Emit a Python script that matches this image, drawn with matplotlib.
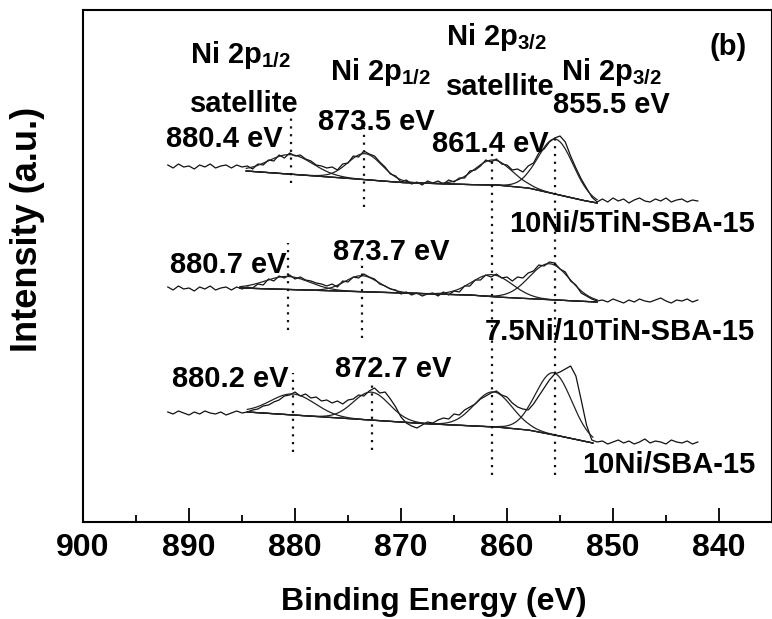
import numpy as np
import matplotlib
matplotlib.use("Agg")
import matplotlib.pyplot as plt
from matplotlib.ticker import MultipleLocator

# binding energy grid of the raw spectra (eV)
energy = np.arange(892.0, 841.9, -0.5)

# raw intensities (a.u., already stacked)
raw_5tin = [357, 354, 358, 355, 356, 353, 357, 355, 358, 354, 356, 357, 354, 357, 355,
            356, 353, 358, 357, 362, 361, 367, 364, 369, 366, 367, 363, 361, 357, 356,
            354, 355, 352, 358, 359, 366, 365, 371, 368, 366, 360, 355, 348, 346, 340,
            342, 338, 340, 337, 341, 339, 341, 338, 342, 340, 344, 344, 351, 352, 356,
            362, 360, 363, 358, 357, 352, 353, 350, 356, 359, 369, 373, 380, 384, 386,
            380, 366, 354, 343, 334, 325, 320,
            323, 320, 324, 321, 323, 319, 322, 324, 321, 320, 323, 321, 324, 320, 322,
            323, 320, 322, 321]
raw_10tin = [235, 232, 236, 233, 234, 231, 235, 233, 236, 232, 234, 235, 232, 235, 233,
             235, 234, 238, 237, 243, 241, 246, 244, 247, 243, 245, 242, 241, 239, 238,
             236, 238, 235, 241, 240, 245, 244, 248, 245, 243, 238, 236, 233, 232, 228,
             230, 227, 229, 226, 228, 229, 226, 230, 227, 231, 230, 236, 236, 242, 242,
             247, 245, 248, 244, 245, 241, 245, 244, 249, 251, 257, 256, 260, 259, 253,
             250, 241, 237, 229, 226, 223, 221,
             222, 220, 223, 221, 219, 222, 220, 223, 221, 220, 222, 224, 221, 219, 222,
             221, 223, 220, 222]
raw_sba = [110, 108, 111, 109, 107, 110, 108, 111, 109, 108, 110, 107, 109, 111, 109,
           110, 112, 113, 116, 117, 120, 122, 126, 127, 130, 126, 128, 124, 125, 121,
           122, 119, 121, 118, 122, 123, 127, 126, 131, 134, 129, 130, 123, 115, 105,
           99, 96, 94, 97, 100, 99, 102, 104, 103, 108, 107, 112, 115, 118, 123,
           126, 129, 131, 127, 125, 119, 115, 113, 112, 118, 126, 134, 142, 148, 150,
           153, 156, 146, 122, 97, 82, 80,
           81, 78, 80, 82, 79, 81, 78, 80, 83, 79, 81, 80, 78, 82, 80,
           79, 81, 78, 80]

# Shirley-type backgrounds (eV, a.u.)
bg_5tin_e = [884.6, 876.0, 870.0, 864.0, 861.0, 858.0, 855.5, 853.0, 851.5]
bg_5tin_y = [351, 344.5, 339.5, 337.5, 337, 334, 328, 322, 319]
bg_10tin_e = [885.2, 863.5, 861.0, 855.5, 851.5]
bg_10tin_y = [234, 227, 225, 222, 220]
bg_sba_e = [884.5, 868.0, 861.0, 858.0, 855.5, 851.9]
bg_sba_y = [110, 98.5, 95, 92, 87, 79]

# fitted peaks: centre (eV), height above background, sigma (eV)
pk_5tin_c = [880.4, 873.4, 861.3, 855.4]
pk_5tin_h = [19.5, 26, 25, 55]
pk_5tin_s = [2.1, 1.6, 1.8, 1.65]
pk_10tin_c = [880.7, 873.7, 861.4, 856.0]
pk_10tin_h = [13, 16, 22, 36]
pk_10tin_s = [2.1, 1.6, 1.9, 1.9]
pk_sba_c = [880.2, 872.8, 861.3, 855.6]
pk_sba_h = [21, 28, 35, 62]
pk_sba_s = [2.1, 1.7, 1.8, 1.7]

# dotted peak markers: energy, top, bottom
mark_e = [880.4, 873.5, 880.7, 873.7, 880.2, 872.7, 861.4, 855.5]
mark_top = [409, 394, 279, 269, 149, 142, 369, 385]
mark_bot = [339, 315, 192, 184, 70, 72, 47, 47]

plt.rcParams['font.family'] = ['Liberation Sans', 'DejaVu Sans']
plt.rcParams['font.weight'] = 'bold'
plt.rcParams['mathtext.fontset'] = 'custom'
plt.rcParams['mathtext.rm'] = 'Liberation Sans:bold'
plt.rcParams['mathtext.it'] = 'Liberation Sans:bold'
plt.rcParams['mathtext.bf'] = 'Liberation Sans:bold'

fig = plt.figure(figsize=(7.72, 6.19), dpi=100)
ax = fig.add_axes([83 / 772, 1 - 522 / 619, 1 - 83 / 772, 512 / 619])

spectra = [
    (raw_5tin, bg_5tin_e, bg_5tin_y, pk_5tin_c, pk_5tin_h, pk_5tin_s),
    (raw_10tin, bg_10tin_e, bg_10tin_y, pk_10tin_c, pk_10tin_h, pk_10tin_s),
    (raw_sba, bg_sba_e, bg_sba_y, pk_sba_c, pk_sba_h, pk_sba_s),
]
for raw, bge, bgy, cs, hs, ss in spectra:
    ax.plot(energy, raw, color='#111111', lw=0.9)
    fe = np.linspace(bge[0], bge[-1], 400)
    base = np.interp(fe, bge[::-1], bgy[::-1])
    ax.plot(fe, base, color='#222222', lw=0.9)
    for c, h, s in zip(cs, hs, ss):
        ax.plot(fe, base + h * np.exp(-(fe - c) ** 2 / (2 * s ** 2)), color='#222222', lw=0.9)

for e, t, b in zip(mark_e, mark_top, mark_bot):
    ax.plot([e, e], [b, t], color='#111111', lw=1.6, ls=(0, (1, 2.5)))

fs = 21
labels = [
    ("Ni 2p$_{1/2}$", 889.9, 459), ("satellite", 889.9, 410), ("880.4 eV", 892.2, 375),
    ("Ni 2p$_{1/2}$", 876.7, 442), ("873.5 eV", 877.8, 392),
    ("Ni 2p$_{3/2}$", 865.8, 477), ("satellite", 865.8, 427), ("861.4 eV", 867.1, 370),
    ("Ni 2p$_{3/2}$", 854.9, 442), ("855.5 eV", 855.7, 409), ("(b)", 840.85, 467),
    ("880.7 eV", 891.8, 249), ("873.7 eV", 876.4, 262),
    ("880.2 eV", 891.6, 135), ("872.7 eV", 876.2, 145),
]
for s, x, y in labels:
    ax.text(x, y, s, fontsize=fs, fontweight='bold', ha='left', va='baseline')
for s, y in [("10Ni/5TiN-SBA-15", 290), ("7.5Ni/10TiN-SBA-15", 182), ("10Ni/SBA-15", 49)]:
    ax.text(836.6, y, s, fontsize=fs, fontweight='bold', ha='right', va='baseline')

ax.set_xlim(900, 835)
ax.set_ylim(0, 512)
ax.xaxis.set_major_locator(MultipleLocator(10))
ax.xaxis.set_minor_locator(MultipleLocator(5))
ax.tick_params(axis='x', which='major', direction='in', length=10, width=1.3, pad=8,
               labelsize=23)
ax.tick_params(axis='x', which='minor', direction='in', length=5, width=1.3)
ax.set_yticks([])
for sp in ax.spines.values():
    sp.set_linewidth(1.5)

fig.text(434 / 772, 1 - 610 / 619, "Binding Energy (eV)", fontsize=23, fontweight='bold',
         ha='center', va='baseline')
fig.text(27.5 / 772, 1 - 229 / 619, "Intensity (a.u.)", fontsize=26, fontweight='bold',
         rotation=90, ha='center', va='center')

fig.savefig('out.png', dpi=100)
